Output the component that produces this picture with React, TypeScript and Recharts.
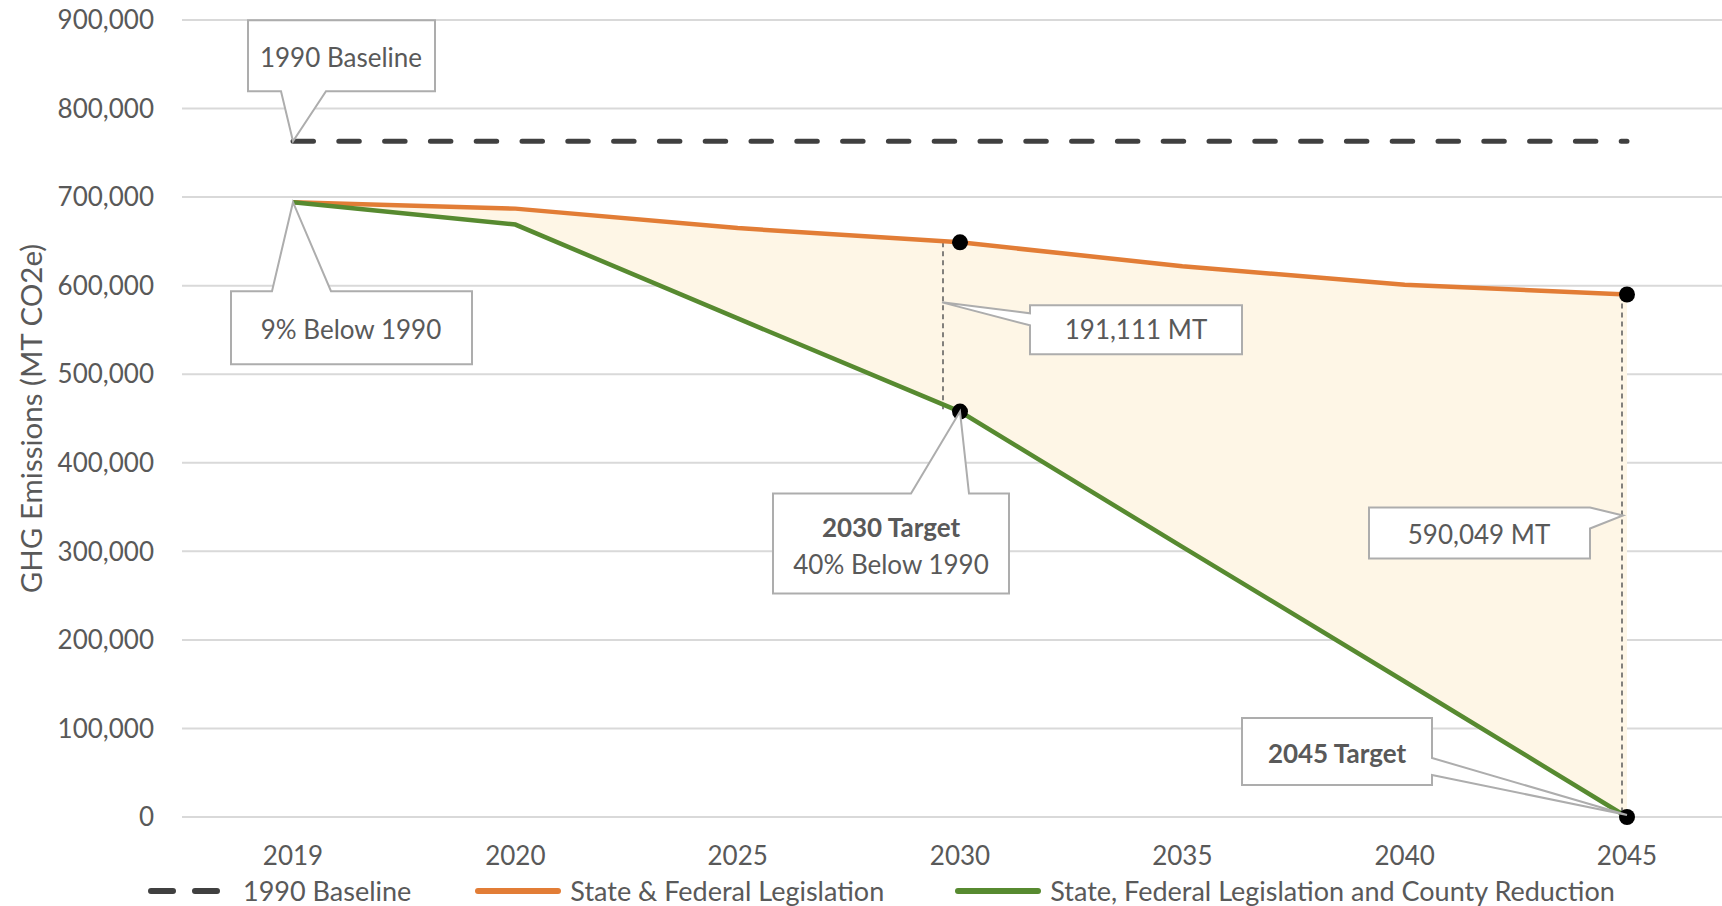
import React from 'react'
import {
  ComposedChart,
  Area,
  Line,
  XAxis,
  YAxis,
  CartesianGrid,
  ReferenceLine,
  ReferenceDot,
  Legend,
} from 'recharts'

const years = ['2019', '2020', '2025', '2030', '2035', '2040', '2045']
const baseline1990 = [763000, 763000, 763000, 763000, 763000, 763000, 763000]
const stateFederal = [694300, 687000, 665000, 648900, 622000, 601000, 590049]
const withCounty = [694300, 669000, 563000, 457800, 305000, 153000, 0]
const yTicks = [0, 100000, 200000, 300000, 400000, 500000, 600000, 700000, 800000, 900000]
const seriesNames = [
  '1990 Baseline',
  'State & Federal Legislation',
  'State, Federal Legislation and County Reduction',
]

const TEXT = '#595959'
const FONT = 'Lato'
const colors = ['#404040', '#E27D36', '#578A30']
// gap after each legend item
const legendGaps = [64, 71, 0]

const data = years.map((year, i) => ({
  year,
  baseline: baseline1990[i],
  state: stateFederal[i],
  county: withCounty[i],
  gap: [withCounty[i], stateFederal[i]],
}))

type Side = 'top' | 'bottom' | 'left' | 'right'
type CalloutSpec = {
  box: [number, number, number, number]
  side: Side
  base: [number, number]
  tip: [number, number]
  tx: number
  lines: { text: string; y: number; bold?: boolean }[]
}

function calloutPath({ box, side, base, tip }: CalloutSpec) {
  const [x0, y0, x1, y1] = box
  const [a, b] = base
  const [tx, ty] = tip
  let pts: number[][] = []
  if (side === 'top') pts = [[x0, y0], [a, y0], [tx, ty], [b, y0], [x1, y0], [x1, y1], [x0, y1]]
  if (side === 'bottom') pts = [[x0, y0], [x1, y0], [x1, y1], [b, y1], [tx, ty], [a, y1], [x0, y1]]
  if (side === 'left') pts = [[x0, y0], [x1, y0], [x1, y1], [x0, y1], [x0, b], [tx, ty], [x0, a]]
  if (side === 'right') pts = [[x0, y0], [x1, y0], [x1, a], [tx, ty], [x1, b], [x1, y1], [x0, y1]]
  return 'M' + pts.map(p => p.join(',')).join('L') + 'Z'
}

const callout = (spec: CalloutSpec) => (props: any) => {
  const { cx, cy } = props
  if (cx == null || cy == null) return <g />
  return (
    <g transform={`translate(${cx},${cy})`}>
      <path d={calloutPath(spec)} fill="#fff" stroke="#ADADAD" strokeWidth={2} />
      {spec.lines.map(l => (
        <text
          key={l.text}
          x={spec.tx}
          y={l.y}
          textAnchor="middle"
          dominantBaseline="central"
          fill={TEXT}
          fontFamily={FONT}
          fontSize={26}
          fontWeight={l.bold ? 700 : 400}
        >
          {l.text}
        </text>
      ))}
    </g>
  )
}

const shiftedLine = (dx: number) => (p: any) => (
  <line
    x1={p.x1 + dx}
    y1={p.y1}
    x2={p.x2 + dx}
    y2={p.y2}
    stroke="#595959"
    strokeWidth={1.5}
    strokeDasharray="5 4"
  />
)

const renderLegend = () => (
  <div
    style={{
      display: 'flex',
      alignItems: 'center',
      fontFamily: FONT,
      fontSize: 27,
      color: TEXT,
      lineHeight: '30px',
      whiteSpace: 'nowrap',
    }}
  >
    {seriesNames.map((name, i) => (
      <div key={name} style={{ display: 'flex', alignItems: 'center', marginRight: legendGaps[i] }}>
        <svg width={86} height={12}>
          <line
            x1={3}
            y1={6}
            x2={83}
            y2={6}
            stroke={colors[i]}
            strokeWidth={6}
            strokeLinecap="round"
            strokeDasharray={i === 0 ? '22 22' : undefined}
          />
        </svg>
        <span style={{ marginLeft: 9 }}>{name}</span>
      </div>
    ))}
  </div>
)

export default function App() {
  return (
    <div
      style={{
        position: 'fixed',
        left: 0,
        top: 0,
        width: 1722,
        height: 906,
        overflow: 'hidden',
        background: '#fff',
      }}
    >
      <ComposedChart
        width={1738}
        height={906}
        data={data}
        margin={{ top: 20, right: 0, bottom: 0, left: 0 }}
      >
        <CartesianGrid vertical={false} stroke="#D9D9D9" strokeWidth={2} />
        <XAxis
          dataKey="year"
          height={89}
          padding={{ left: 111, right: 111 }}
          axisLine={false}
          tickLine={false}
          tickSize={0}
          tickMargin={30}
          tick={{ fill: TEXT, fontSize: 26, fontFamily: FONT }}
        />
        <YAxis
          width={182}
          domain={[0, 900000]}
          ticks={yTicks}
          axisLine={false}
          tickLine={false}
          tickSize={0}
          tickMargin={28}
          tick={{ fill: TEXT, fontSize: 26, fontFamily: FONT }}
          tickFormatter={(v: number) => v.toLocaleString('en-US')}
          label={{
            content: (p: any) => {
              const vb = p.viewBox
              const x = vb.x + 30
              const y = vb.y + vb.height / 2
              return (
                <text
                  x={x}
                  y={y}
                  transform={`rotate(-90, ${x}, ${y})`}
                  textAnchor="middle"
                  dominantBaseline="central"
                  fill={TEXT}
                  fontFamily={FONT}
                  fontSize={29.5}
                >
                  GHG Emissions (MT CO2e)
                </text>
              )
            },
          }}
        />
        <Area
          type="linear"
          dataKey="gap"
          stroke="none"
          fill="#FEF6E6"
          fillOpacity={1}
          isAnimationActive={false}
          activeDot={false}
          legendType="none"
        />
        <ReferenceLine
          segment={[
            { x: '2030', y: stateFederal[3] },
            { x: '2030', y: withCounty[3] },
          ]}
          shape={shiftedLine(-17)}
        />
        <ReferenceLine
          segment={[
            { x: '2045', y: stateFederal[6] },
            { x: '2045', y: withCounty[6] },
          ]}
          shape={shiftedLine(-5)}
        />
        <Line
          type="linear"
          dataKey="baseline"
          name={seriesNames[0]}
          stroke={colors[0]}
          strokeWidth={5}
          strokeDasharray="20.5 25.3"
          strokeLinecap="round"
          dot={false}
          activeDot={false}
          isAnimationActive={false}
        />
        <Line
          type="linear"
          dataKey="state"
          name={seriesNames[1]}
          stroke={colors[1]}
          strokeWidth={4.5}
          dot={false}
          activeDot={false}
          isAnimationActive={false}
        />
        <Line
          type="linear"
          dataKey="county"
          name={seriesNames[2]}
          stroke={colors[2]}
          strokeWidth={4.5}
          dot={false}
          activeDot={false}
          isAnimationActive={false}
        />
        <ReferenceDot x="2030" y={stateFederal[3]} r={8} fill="#000" stroke="none" />
        <ReferenceDot x="2030" y={withCounty[3]} r={8} fill="#000" stroke="none" />
        <ReferenceDot x="2045" y={stateFederal[6]} r={8} fill="#000" stroke="none" />
        <ReferenceDot x="2045" y={withCounty[6]} r={8} fill="#000" stroke="none" />
        <ReferenceDot
          x="2019"
          y={baseline1990[0]}
          r={0}
          shape={callout({
            box: [-45, -121, 142, -50],
            side: 'bottom',
            base: [-12, 33],
            tip: [0, 0],
            tx: 48,
            lines: [{ text: '1990 Baseline', y: -84 }],
          })}
        />
        <ReferenceDot
          x="2019"
          y={stateFederal[0]}
          r={0}
          shape={callout({
            box: [-62, 89, 179, 162],
            side: 'top',
            base: [-21, 38],
            tip: [0, 0],
            tx: 58,
            lines: [{ text: '9% Below 1990', y: 127 }],
          })}
        />
        <ReferenceDot
          x="2030"
          y={stateFederal[3]}
          r={0}
          shape={callout({
            box: [70, 63, 282, 112],
            side: 'left',
            base: [71, 83],
            tip: [-18, 60],
            tx: 176,
            lines: [{ text: '191,111 MT', y: 87 }],
          })}
        />
        <ReferenceDot
          x="2030"
          y={withCounty[3]}
          r={0}
          shape={callout({
            box: [-187, 82, 49, 182],
            side: 'top',
            base: [-49, 9],
            tip: [0, 0],
            tx: -69,
            lines: [
              { text: '2030 Target', y: 115, bold: true },
              { text: '40% Below 1990', y: 152 },
            ],
          })}
        />
        <ReferenceDot
          x="2045"
          y={stateFederal[6]}
          r={0}
          shape={callout({
            box: [-258, 213, -37, 264],
            side: 'right',
            base: [213, 234],
            tip: [-4, 221],
            tx: -148,
            lines: [{ text: '590,049 MT', y: 240 }],
          })}
        />
        <ReferenceDot
          x="2045"
          y={withCounty[6]}
          r={0}
          shape={callout({
            box: [-385, -99, -195, -32],
            side: 'right',
            base: [-59, -42],
            tip: [0, -2],
            tx: -290,
            lines: [{ text: '2045 Target', y: -64, bold: true }],
          })}
        />
        <Legend
          layout="horizontal"
          verticalAlign="middle"
          align="center"
          wrapperStyle={{ position: 'absolute', top: 876, left: 148, width: 'auto' }}
          content={renderLegend}
        />
      </ComposedChart>
    </div>
  )
}
